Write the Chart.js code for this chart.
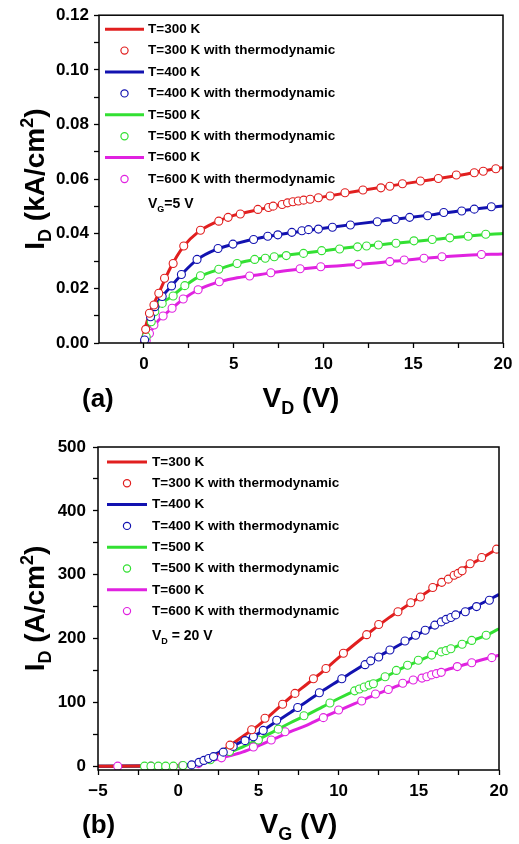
<!DOCTYPE html>
<html>
<head>
<meta charset="utf-8">
<script src="https://cdn.jsdelivr.net/npm/chart.js@4.4.0/dist/chart.umd.min.js"></script>
<style>
  body { margin: 0; background: #fff; }
  canvas { position: absolute; left: 0; }
  #chartA { top: 0; }
  #chartB { top: 420px; }
</style>
</head>
<body>
<canvas id="chartA" width="519" height="420"></canvas>
<canvas id="chartB" width="519" height="424"></canvas>
<script>
const FONT = '"Liberation Sans", Arial, sans-serif';
const temps = ['T=300 K', 'T=400 K', 'T=500 K', 'T=600 K'];
const colors = ['#e11f1f', '#1212b0', '#33e033', '#e022e0'];

// (a) ID (kA/cm2) vs VD, VG = 5 V
const aXTicks = [0, 5, 10, 15, 20];
const aYTicks = [0, 0.02, 0.04, 0.06, 0.08, 0.10, 0.12];

const a300Line = [[-0.15,0],[0.3,0.0105],[0.8,0.0178],[1.5,0.0278],[2.2,0.0353],[3,0.0405],[4,0.0442],[5,0.0467],[6.5,0.049],[8,0.0512],[10,0.0535],[12,0.0557],[14,0.0578],[16,0.0598],[18,0.0619],[20,0.0643]];
const a400Line = [[-0.15,0],[0.3,0.0085],[0.8,0.0152],[1.5,0.0206],[2.2,0.0258],[3,0.0307],[4,0.0342],[5,0.0362],[6.5,0.0385],[8,0.0402],[10,0.042],[12,0.0437],[14,0.0453],[16,0.0469],[18,0.0487],[20,0.0502]];
const a500Line = [[-0.1,0],[0.3,0.006],[0.8,0.0132],[1.5,0.0168],[2.2,0.0205],[3,0.024],[4,0.0266],[5,0.0288],[6.5,0.0309],[8,0.0322],[10,0.0338],[12,0.0353],[14,0.0365],[16,0.0378],[18,0.0391],[20,0.0401]];
const a600Line = [[-0.05,0],[0.3,0.0034],[0.8,0.0082],[1.5,0.0123],[2.2,0.0161],[3,0.0194],[4,0.022],[5,0.0236],[6.5,0.0251],[8,0.0265],[10,0.0279],[12,0.0288],[14,0.03],[16,0.0312],[18,0.0321],[20,0.0326]];

const a300Dots = [[0.1,0.005],[0.31,0.0109],[0.56,0.0139],[0.83,0.0182],[1.15,0.0237],[1.63,0.0291],[2.22,0.0355],[3.15,0.0413],[4.17,0.0446],[4.69,0.046],[5.37,0.0472],[6.35,0.0489],[6.94,0.0496],[7.2,0.0501],[7.7,0.0507],[8.0,0.0513],[8.3,0.0517],[8.6,0.052],[8.9,0.0523],[9.26,0.0526],[9.72,0.0532],[10.37,0.0538],[11.2,0.055],[12.2,0.056],[13.2,0.0568],[13.7,0.0574],[14.4,0.0583],[15.4,0.0593],[16.4,0.0602],[17.4,0.0615],[18.4,0.0623],[18.9,0.0629],[19.6,0.0638]];
const a400Dots = [[0.04,0.0011],[0.37,0.0096],[0.61,0.0133],[1.02,0.017],[1.54,0.0209],[2.09,0.0251],[2.96,0.0306],[4.13,0.0346],[4.96,0.0362],[6.11,0.0379],[6.9,0.0391],[7.46,0.0396],[8.24,0.0405],[8.8,0.0411],[9.17,0.0415],[9.72,0.0417],[10.5,0.0424],[11.5,0.0432],[13.0,0.0444],[14.0,0.0452],[14.8,0.046],[15.8,0.0466],[16.7,0.0478],[17.7,0.0483],[18.4,0.049],[19.35,0.0499]];
const a500Dots = [[0.13,0.0023],[0.41,0.0078],[0.61,0.0115],[1.02,0.0145],[1.63,0.0172],[2.28,0.021],[3.15,0.0246],[4.17,0.027],[5.19,0.0291],[6.17,0.0306],[6.76,0.031],[7.26,0.0316],[7.93,0.032],[8.89,0.0328],[9.9,0.0338],[10.9,0.0344],[11.9,0.0352],[12.4,0.0355],[13.06,0.0359],[14.04,0.0365],[15.04,0.0374],[16.06,0.0379],[17.04,0.0385],[18.06,0.0391],[19.04,0.0398]];
const a600Dots = [[0.13,0.0009],[0.31,0.0035],[0.56,0.0066],[1.07,0.0099],[1.57,0.0127],[2.19,0.0161],[3.02,0.0195],[4.2,0.0224],[5.89,0.0245],[7.07,0.0257],[8.7,0.0272],[9.85,0.0279],[11.94,0.0288],[13.7,0.0298],[14.5,0.0304],[15.6,0.031],[16.6,0.0316],[18.8,0.0324]];

// (b) ID (A/cm2) vs VG, VD = 20 V
const bXTicks = [-5, 0, 5, 10, 15, 20];
const bYTicks = [0, 100, 200, 300, 400, 500];

const b300Line = [[-5,0],[0,0.5],[1,2],[1.5,5],[2,10],[2.5,18],[3,28],[4,46],[5,64],[6,86],[7,108],[8,128],[9,148],[10,170],[11,191],[12,211],[13,230],[14,247],[15,264],[16,281],[17,297],[18,313],[19,327],[20,342]];
const b400Line = [[-5,0],[0,0.5],[1,4],[1.5,9],[2,15],[3,27],[4,39],[5,51],[6,68],[7,84],[8,101],[9,118],[10,134],[11,150],[12,165],[13,179],[14,193],[15,207],[16,221],[17,234],[18,245],[19,256],[20,269]];
const b500Line = [[-5,0],[0,0.3],[1,3],[2,10],[3,20],[4,30],[5,42],[6,55],[7,68],[8,80],[9,93],[10,106],[11,118],[12,129],[13,141],[14,154],[15,165],[16,176],[17,184],[18,194],[19,203],[20,215]];
const b600Line = [[-5,0],[0,0.5],[1,3],[2,8],[3,15],[4,22],[5,32],[6,43],[7,54],[8,64],[9,76],[10,87],[11,98],[12,109],[13,119],[14,129],[15,137],[16,145],[17,153],[18,160],[19,167],[20,174]];

const b300Dots = [[3.23,33],[4.58,57],[5.41,75],[6.51,97],[7.28,114],[8.43,137],[9.21,153],[10.3,177],[11.75,206],[12.5,222],[13.7,242],[14.5,256],[15.1,265],[15.87,280],[16.43,288],[16.84,293],[17.2,299],[17.45,302],[17.7,306],[18.2,317],[18.92,327],[19.85,340]];
const b400Dots = [[0.84,2],[1.3,6],[1.6,9],[1.9,12],[2.2,15],[2.81,22],[3.43,31],[4.17,40],[4.69,46],[5.3,56],[6.14,72],[7.45,92],[8.8,115],[10.2,137],[11.65,159],[12.0,165],[12.5,171],[13.2,182],[14.14,196],[14.8,205],[15.4,213],[16.0,221],[16.4,226],[16.7,230],[17.0,233],[17.3,237],[17.9,242],[18.6,250],[19.4,260]];
const b500Dots = [[-2.1,0],[-1.7,0],[-1.24,0],[-0.78,0],[-0.3,0],[0.3,1],[2.0,10],[3.2,23],[5.0,41],[6.24,58],[7.84,79],[9.46,99],[11.0,118],[11.3,121],[11.6,124],[11.9,127],[12.17,129],[12.9,140],[13.6,150],[14.3,158],[14.97,166],[15.8,174],[16.4,179],[16.7,181],[17.0,184],[17.7,191],[18.3,197],[19.2,205]];
const b600Dots = [[-3.77,0],[-1.7,0],[0.26,1],[1.26,4],[2.7,13],[4.69,30],[5.8,41],[6.66,54],[9.05,76],[10.0,88],[11.44,102],[12.3,113],[13.1,120],[14.0,130],[14.65,135],[15.2,138],[15.5,140],[15.8,143],[16.1,145],[16.4,147],[17.4,156],[18.3,162],[19.55,170]];

// major ticks plus one minor tick between each pair
function withMinor(major) {
  const out = [];
  major.forEach((v, i) => {
    out.push(v);
    if (i < major.length - 1) out.push((v + major[i + 1]) / 2);
  });
  return out;
}

// text with sub/superscripts: parts = [text, size, dy]
function richText(ctx, parts, x, y, align) {
  let w = 0;
  parts.forEach(p => { ctx.font = `bold ${p[1]}px ${FONT}`; w += ctx.measureText(p[0]).width; });
  let cx = align === 'center' ? x - w / 2 : x;
  parts.forEach(p => {
    ctx.font = `bold ${p[1]}px ${FONT}`;
    ctx.fillText(p[0], cx, y + (p[2] || 0));
    cx += ctx.measureText(p[0]).width;
  });
}

const decor = {
  id: 'decor',
  afterDraw(chart, args, o) {
    const ctx = chart.ctx;
    const a = chart.chartArea;
    ctx.save();
    // frame
    ctx.strokeStyle = '#000';
    ctx.lineWidth = 1.5;
    ctx.strokeRect(a.left, a.top, a.right - a.left, a.bottom - a.top);
    // legend
    ctx.textBaseline = 'middle';
    ctx.fillStyle = '#000';
    chart.data.datasets.forEach((ds, i) => {
      const y = a.top + o.legY + i * o.rowH;
      const x0 = a.left + o.legX;
      if (ds.showLine !== false) {
        ctx.strokeStyle = ds.borderColor;
        ctx.lineWidth = 3;
        ctx.beginPath();
        ctx.moveTo(x0, y);
        ctx.lineTo(x0 + o.lineLen, y);
        ctx.stroke();
      } else {
        ctx.strokeStyle = ds.borderColor;
        ctx.lineWidth = 1.2;
        ctx.beginPath();
        ctx.arc(x0 + o.lineLen / 2, y, 3.6, 0, Math.PI * 2);
        ctx.stroke();
      }
      ctx.font = `bold 13.5px ${FONT}`;
      ctx.fillText(ds.label, a.left + o.textX, y);
    });
    ctx.textBaseline = 'alphabetic';
    const ny = a.top + o.legY + 8 * o.rowH + 8;
    richText(ctx, o.note, a.left + o.textX, ny, 'left');
    // axis titles
    const cx = (a.left + a.right) / 2;
    const cy = (a.top + a.bottom) / 2;
    richText(ctx, o.xTitle, cx, o.xTitleY, 'center');
    richText(ctx, [[o.panel, 26]], o.panelX, o.xTitleY, 'left');
    ctx.translate(o.yTitleX, cy);
    ctx.rotate(-Math.PI / 2);
    richText(ctx, o.yTitle, 0, 0, 'center');
    ctx.restore();
  }
};

function makeChart(id, cfg) {
  const datasets = [];
  cfg.lines.forEach((line, i) => {
    datasets.push({
      label: temps[i],
      data: line.map(p => ({ x: p[0], y: p[1] })),
      borderColor: colors[i], borderWidth: 3, pointRadius: 0,
      cubicInterpolationMode: 'monotone', showLine: true, order: 2
    });
    datasets.push({
      label: temps[i] + ' with thermodynamic',
      data: cfg.dots[i].map(p => ({ x: p[0], y: p[1] })),
      borderColor: colors[i], backgroundColor: '#fff',
      pointRadius: 4, pointBorderWidth: 1.1, showLine: false, order: 1
    });
  });

  const tickFont = { family: FONT, size: 17, weight: 'bold' };
  const grid = { drawOnChartArea: false, tickLength: 5, tickColor: '#000', tickWidth: 1.3 };

  new Chart(document.getElementById(id), {
    type: 'line',
    data: { datasets },
    plugins: [decor],
    options: {
      responsive: false,
      animation: false,
      layout: { padding: { top: cfg.top, right: cfg.right, left: 0, bottom: 0 } },
      plugins: { legend: { display: false }, tooltip: { enabled: false }, decor: cfg.decor },
      scales: {
        x: {
          type: 'linear', min: cfg.xMin, max: cfg.xMax,
          afterBuildTicks: s => { s.ticks = withMinor(cfg.xTicks).map(v => ({ value: v })); },
          afterFit: s => { s.height = cfg.xHeight; },
          ticks: {
            autoSkip: false, maxRotation: 0, padding: 6, color: '#000', font: tickFont,
            callback: v => cfg.xTicks.includes(v) ? String(v).replace('-', '\u2212') : ''
          },
          grid, border: { display: false }
        },
        y: {
          type: 'linear', min: cfg.yMin, max: cfg.yMax,
          afterBuildTicks: s => { s.ticks = withMinor(cfg.yTicks).map(v => ({ value: v })); },
          afterFit: s => { s.width = cfg.left; },
          ticks: {
            autoSkip: false, padding: cfg.yPad, color: '#000', font: tickFont,
            callback: v => cfg.yTicks.includes(v) ? cfg.yFmt(v) : ''
          },
          grid, border: { display: false }
        }
      }
    }
  });
}

makeChart('chartA', {
  lines: [a300Line, a400Line, a500Line, a600Line],
  dots: [a300Dots, a400Dots, a500Dots, a600Dots],
  xTicks: aXTicks, yTicks: aYTicks,
  xMin: -2.5, xMax: 20, yMin: 0, yMax: 0.12,
  yFmt: v => v.toFixed(2), yPad: 5,
  top: 15, right: 16, left: 99, xHeight: 77,
  decor: {
    legX: 6, legY: 14, rowH: 21.4, lineLen: 39, textX: 49,
    note: [['V', 14], ['G', 9, 4], ['=5 V', 14]],
    xTitle: [['V', 28], ['D', 18, 7], [' (V)', 28]], xTitleY: 407,
    yTitle: [['I', 28], ['D', 18, 7], [' (kA/cm', 28], ['2', 18, -11], [')', 28]], yTitleX: 44,
    panel: '(a)', panelX: 82
  }
});

makeChart('chartB', {
  lines: [b300Line, b400Line, b500Line, b600Line],
  dots: [b300Dots, b400Dots, b500Dots, b600Dots],
  xTicks: bXTicks, yTicks: bYTicks,
  xMin: -5, xMax: 20, yMin: -6, yMax: 500,
  yFmt: v => String(v), yPad: 7,
  top: 27, right: 20, left: 98, xHeight: 74,
  decor: {
    legX: 9, legY: 15, rowH: 21.3, lineLen: 40, textX: 54,
    note: [['V', 14], ['D', 9, 4], [' = 20 V', 14]],
    xTitle: [['V', 28], ['G', 18, 7], [' (V)', 28]], xTitleY: 413,
    yTitle: [['I', 28], ['D', 18, 7], [' (A/cm', 28], ['2', 18, -11], [')', 28]], yTitleX: 44,
    panel: '(b)', panelX: 82
  }
});
</script>
</body>
</html>
